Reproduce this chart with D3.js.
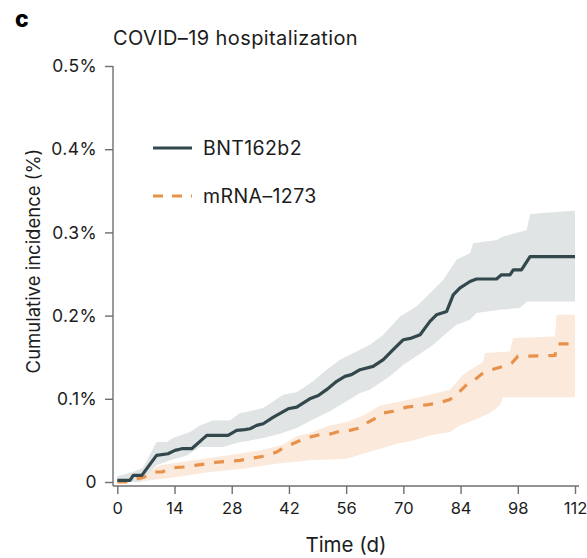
<!DOCTYPE html>
<html>
<head>
<meta charset="utf-8">
<script src="https://cdn.jsdelivr.net/npm/d3@7"></script>
<style>
  html, body { margin: 0; padding: 0; background: #fff; }
  svg text { font-family: Inter, "Liberation Sans", sans-serif; fill: #1c1c1c; }
</style>
</head>
<body>
<svg id="chart" width="587" height="558"></svg>
<script>
// Cumulative incidence (%) by day since vaccination: [day, percent]
const bntLine = [[0,0.002],[3.1,0.002],[3.9,0.008],[6.0,0.008],[9.6,0.032],[12.4,0.034],[14.1,0.038],[15.8,0.040],[18.2,0.040],[21.9,0.056],[27.1,0.056],[29.2,0.062],[31.2,0.063],[32.5,0.064],[34.1,0.068],[35.7,0.070],[38.2,0.078],[41.8,0.088],[43.9,0.090],[47.1,0.100],[49.2,0.104],[51.2,0.111],[53.7,0.121],[55.7,0.127],[57.3,0.129],[59.4,0.135],[62.6,0.139],[65.1,0.147],[67.5,0.159],[70.0,0.171],[72.0,0.173],[74.1,0.177],[76.5,0.193],[78.1,0.201],[80.6,0.205],[82.2,0.225],[83.8,0.233],[86.3,0.241],[87.9,0.244],[92.8,0.244],[94.0,0.249],[96.1,0.249],[96.9,0.255],[98.9,0.255],[101.0,0.271],[112,0.271]];
const bntUpper = [[0,0.007],[2.3,0.010],[3.8,0.012],[6.3,0.017],[9.6,0.048],[12.1,0.048],[13.6,0.053],[17.8,0.060],[20.2,0.068],[23.4,0.074],[27.6,0.074],[30.0,0.083],[31.7,0.084],[35.7,0.089],[40.6,0.105],[43.9,0.108],[47.9,0.121],[51.2,0.135],[54.5,0.147],[59.4,0.159],[61.8,0.165],[65.1,0.177],[69.2,0.199],[73.2,0.211],[76.5,0.227],[79.8,0.243],[81.4,0.255],[83.0,0.267],[86.3,0.275],[87.1,0.287],[92.8,0.291],[94.4,0.295],[100.2,0.303],[101.0,0.322],[109.1,0.325],[112,0.326]];
const bntLower = [[0,0.000],[5.6,0.000],[7.2,0.008],[9.6,0.020],[12.9,0.026],[17.0,0.032],[20.2,0.042],[25.9,0.042],[30.0,0.048],[31.7,0.049],[35.7,0.053],[39.8,0.058],[43.9,0.065],[47.9,0.075],[52.0,0.085],[56.1,0.097],[59.4,0.107],[61.8,0.111],[66.7,0.127],[70.0,0.141],[73.2,0.151],[77.3,0.165],[80.6,0.179],[83.0,0.189],[86.3,0.195],[87.9,0.203],[93.6,0.207],[98.5,0.209],[100.2,0.217],[112,0.217]];

const mrnaLine = [[0,0.000],[2.6,0.000],[4.6,0.004],[6.0,0.005],[7.6,0.008],[9.2,0.012],[10.9,0.012],[13.3,0.017],[16.1,0.018],[19.0,0.020],[21.9,0.022],[24.7,0.024],[27.2,0.025],[30.0,0.026],[33.3,0.029],[35.7,0.031],[39.0,0.036],[40.6,0.041],[43.9,0.048],[46.3,0.053],[49.6,0.057],[51.6,0.057],[54.5,0.061],[56.9,0.062],[59.4,0.065],[60.2,0.069],[62.6,0.075],[65.1,0.083],[67.5,0.085],[70.8,0.090],[72.8,0.091],[76.1,0.093],[78.5,0.095],[81.4,0.099],[83.0,0.105],[85.5,0.117],[87.5,0.123],[89.5,0.131],[91.6,0.135],[94.4,0.139],[96.5,0.143],[98.0,0.151],[107.1,0.152],[107.6,0.166],[112,0.166]];
const mrnaUpper = [[0,0.005],[4.7,0.006],[6.4,0.008],[8.8,0.016],[10.4,0.020],[14.5,0.023],[18.6,0.026],[26.8,0.032],[34.9,0.038],[40.6,0.045],[43.9,0.055],[47.1,0.059],[52.0,0.068],[56.1,0.072],[60.2,0.080],[64.3,0.092],[68.4,0.096],[76.5,0.105],[81.4,0.111],[84.6,0.129],[86.3,0.135],[89.5,0.144],[90.0,0.155],[96.0,0.157],[96.9,0.173],[107.1,0.175],[107.5,0.201],[112,0.201]];
const mrnaLower = [[0,0.000],[6.3,0.001],[14.5,0.006],[22.7,0.012],[30.8,0.016],[39.0,0.022],[47.1,0.026],[52.0,0.027],[56.1,0.028],[60.2,0.034],[64.3,0.040],[68.4,0.046],[72.4,0.050],[76.5,0.056],[81.4,0.060],[83.8,0.068],[87.1,0.074],[91.2,0.083],[93.6,0.092],[94.4,0.102],[112,0.102]];

const xTicks = [0, 14, 28, 42, 56, 70, 84, 98, 112];
const yTicks = [0, 0.1, 0.2, 0.3, 0.4, 0.5];
const yTickLabels = ["0", "0.1%", "0.2%", "0.3%", "0.4%", "0.5%"];
const seriesNames = ["BNT162b2", "mRNA\u20131273"];

const colors = {
  bnt: "#33484c", bntBand: "#e0e4e5",
  mrna: "#e8914a", mrnaBand: "#fbeadc",
  axis: "#6f6f6f"
};

const svg = d3.select("#chart");
const x = d3.scaleLinear().domain([0, 112]).range([117.3, 575]);
const y = d3.scaleLinear().domain([0, 0.5]).range([482, 66]);
const axisLeftX = 113, axisBottomY = 486;

const line = d3.line().x(d => x(d[0])).y(d => y(d[1]));
const band = (up, lo) => line(up.concat(lo.slice().reverse())) + "Z";

// confidence bands
svg.append("path").attr("d", band(mrnaUpper, mrnaLower)).attr("fill", colors.mrnaBand);
svg.append("path").attr("d", band(bntUpper, bntLower)).attr("fill", colors.bntBand);

// estimate lines
svg.append("path").attr("d", line(mrnaLine)).attr("fill", "none")
  .attr("stroke", colors.mrna).attr("stroke-width", 3.2).attr("stroke-dasharray", "10,10");
svg.append("path").attr("d", line(bntLine)).attr("fill", "none")
  .attr("stroke", colors.bnt).attr("stroke-width", 3.2).attr("stroke-linejoin", "round");

// x axis
const gx = svg.append("g").attr("transform", `translate(0,${axisBottomY})`)
  .call(d3.axisBottom(x).tickValues(xTicks).tickSize(8).tickPadding(8).tickSizeOuter(0));
gx.select(".domain").remove();
gx.append("line").attr("x1", axisLeftX).attr("x2", x(112) + 4).attr("y1", 0).attr("y2", 0)
  .attr("stroke", colors.axis).attr("stroke-width", 1.4);
gx.selectAll(".tick line").attr("stroke", colors.axis).attr("stroke-width", 1.4);
gx.selectAll(".tick text").attr("font-size", 16.5)
  .attr("fill", "#1c1c1c").attr("font-family", "Inter, sans-serif");

// y axis
const gy = svg.append("g").attr("transform", `translate(${axisLeftX},0)`)
  .call(d3.axisLeft(y).tickValues(yTicks).tickFormat((d, i) => yTickLabels[i])
    .tickSize(8).tickPadding(8).tickSizeOuter(0));
gy.select(".domain").remove();
gy.append("line").attr("x1", 0).attr("x2", 0).attr("y1", y(0.5)).attr("y2", axisBottomY)
  .attr("stroke", colors.axis).attr("stroke-width", 1.4);
gy.selectAll(".tick line").attr("stroke", colors.axis).attr("stroke-width", 1.4);
gy.selectAll(".tick text").attr("font-size", 17.5).attr("letter-spacing", 0.4)
  .attr("fill", "#1c1c1c").attr("font-family", "Inter, sans-serif");

// titles
svg.append("text").attr("x", 15).attr("y", 27).attr("font-size", 23).attr("font-weight", 800)
  .style("fill", "#000").text("c");
svg.append("text").attr("x", 113).attr("y", 45).attr("font-size", 20).attr("letter-spacing", 0.4)
  .text("COVID\u201319 hospitalization");
svg.append("text").attr("x", (axisLeftX + x(112)) / 2 + 2).attr("y", 552)
  .attr("text-anchor", "middle").attr("font-size", 20.5).text("Time (d)");
svg.append("text").attr("transform", `translate(40,261) rotate(-90)`)
  .attr("text-anchor", "middle").attr("font-size", 18.5).text("Cumulative incidence (%)");

// legend
const legend = svg.append("g");
const items = [
  { name: seriesNames[0], color: colors.bnt, dash: null, y: 148 },
  { name: seriesNames[1], color: colors.mrna, dash: "10,9", y: 196 }
];
items.forEach(it => {
  legend.append("line").attr("x1", 153).attr("x2", 192).attr("y1", it.y).attr("y2", it.y)
    .attr("stroke", it.color).attr("stroke-width", 3.2).attr("stroke-dasharray", it.dash);
  legend.append("text").attr("x", 203).attr("y", it.y + 7).attr("font-size", 19.5)
    .attr("letter-spacing", 0.4).text(it.name);
});
</script>
</body>
</html>
